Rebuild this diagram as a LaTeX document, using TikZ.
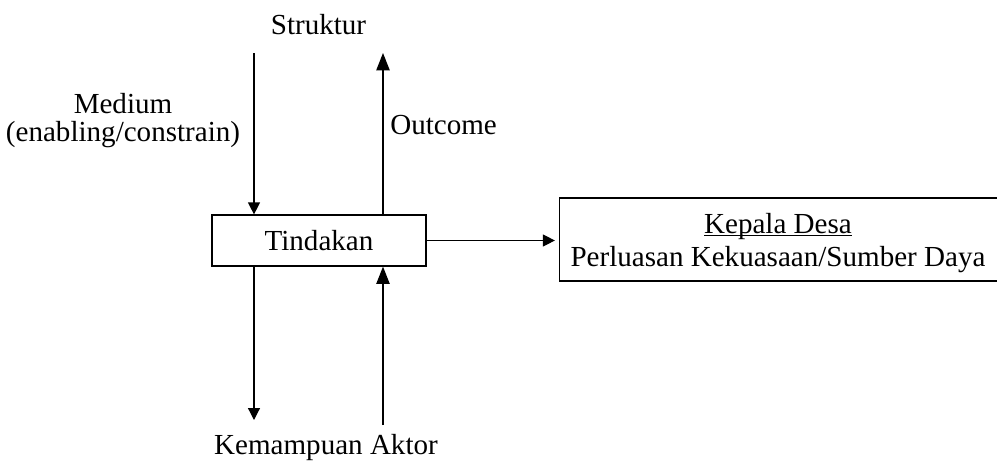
\documentclass[tikz,border=0pt]{standalone}
\usepackage{fontspec}
\setmainfont{Liberation Serif}
\usetikzlibrary{arrows.meta}
\newcommand\myul[1]{\underline{\smash{#1}}}
\begin{document}
\begin{tikzpicture}[x=0.75pt,y=-0.75pt,
  box/.style={draw, line width=0.9pt, inner sep=0pt, font=\fontsize{21.8}{25}\selectfont},
  lbl/.style={inner sep=0pt, font=\fontsize{21.8}{21}\selectfont, align=center},
  conn/.style={line width=0.9pt, -{Triangle[length=9pt,width=9pt]}},
  connup/.style={line width=0.9pt, -{Triangle[length=13pt,width=10pt]}}]
\useasboundingbox (0,0) rectangle (997,465);
\node[box, minimum width=214*0.75pt, minimum height=51*0.75pt] (t) at (319,240.5) {Tindakan};
\node[box, minimum width=440*0.75pt, minimum height=83*0.75pt] (k) at (779.5,239.5) {};
\node[lbl, font=\fontsize{21.8}{24.5}\selectfont] (kt) at (778,253) {\myul{Kepala Desa}\\Perluasan Kekuasaan/Sumber Daya};
\node[lbl] (s) at (318.5,25) {Struktur};
\node[lbl] (m) at (123,120.5) {Medium\\(enabling/constrain)};
\node[lbl, anchor=west] (o) at (390,125) {Outcome};
\node[lbl] (ka) at (326,448) {Kemampuan Aktor};
\coordinate (a1) at (254,53);
\coordinate (a2) at (383,53);
\coordinate (b1) at (254,420);
\coordinate (b2) at (383,425);
\draw[conn] (a1) -- (a1 |- t.north);
\draw[connup] (t.north -| a2) -- (a2);
\draw[conn] (t.south -| b1) -- (b1);
\draw[connup] (b2) -- (t.south -| b2);
\draw[conn, shorten >=3pt] (t.east) -- (t.east -| k.west);
\end{tikzpicture}
\end{document}
